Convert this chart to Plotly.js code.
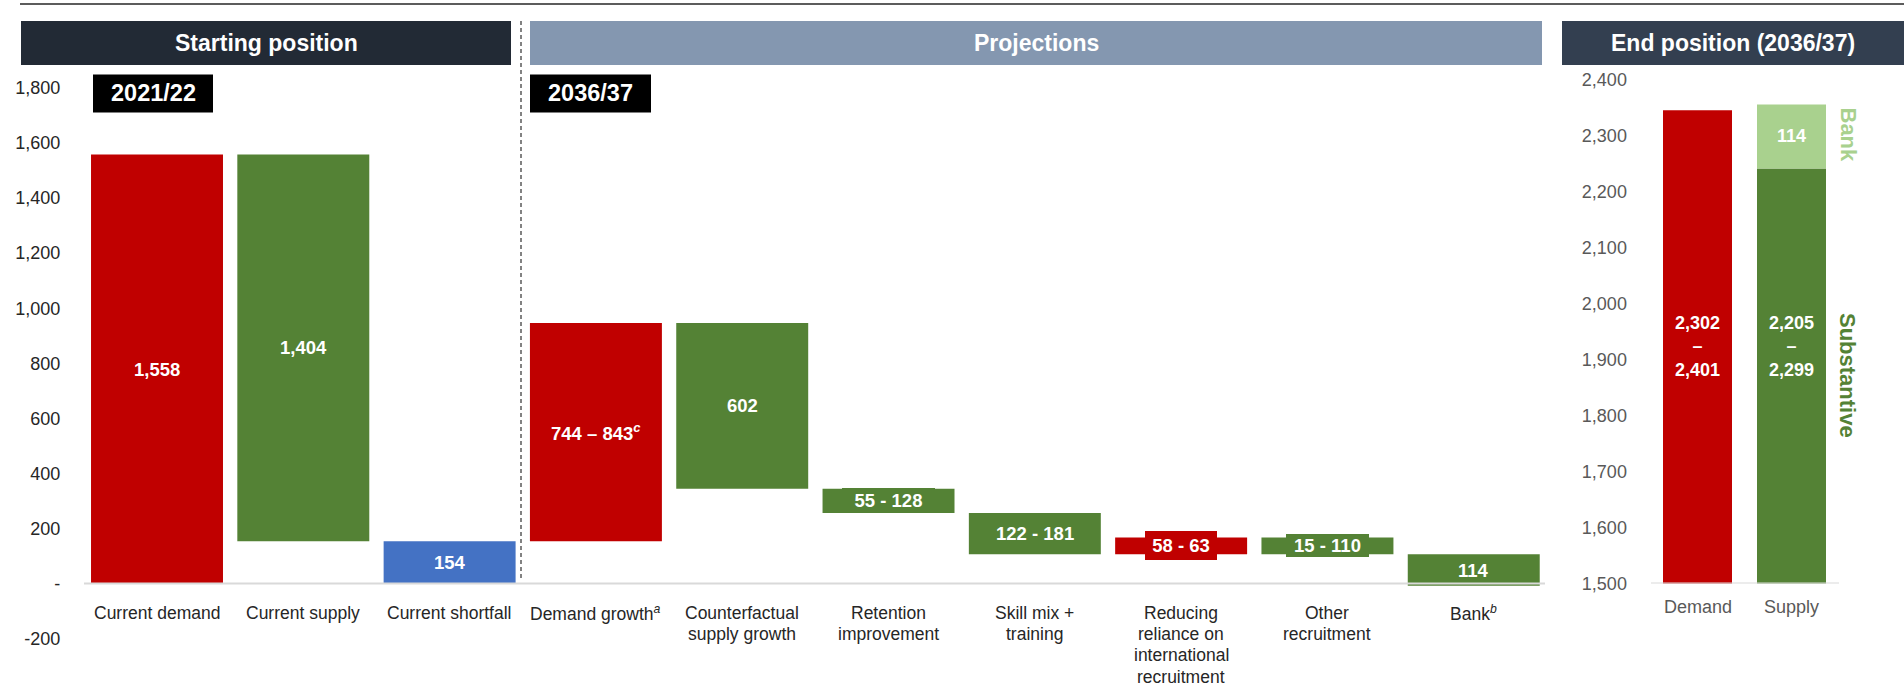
<!DOCTYPE html>
<html>
<head>
<meta charset="utf-8">
<script src="https://cdn.plot.ly/plotly-3.0.1.min.js"></script>
<style>
  html, body { margin: 0; padding: 0; background: #fff; }
  #chart { width: 1904px; height: 686px; }
</style>
</head>
<body>
<div id="chart"></div>
<script>
// ---------- DATA ----------
const categories = ['Current demand', 'Current supply', 'Current shortfall', 'Demand growth',
  'Counterfactual supply growth', 'Retention improvement', 'Skill mix + training',
  'Reducing reliance on international recruitment', 'Other recruitment', 'Bank'];
const categoryLabels = ['Current demand', 'Current supply', 'Current shortfall',
  'Demand growth<sup><i>a</i></sup>', 'Counterfactual<br>supply growth', 'Retention<br>improvement',
  'Skill mix +<br>training', 'Reducing<br>reliance on<br>international<br>recruitment',
  'Other<br>recruitment', 'Bank<sup><i>b</i></sup>'];
const barBottom = [0, 154, 0, 154, 344, 256, 106, 106, 106, -8];
const barTop = [1558, 1558, 154, 946, 946, 344, 256, 167, 167, 106];
const barKind = ['demand', 'supply', 'shortfall', 'demand', 'supply', 'supply', 'supply', 'demand', 'supply', 'supply'];
const valueLabels = ['1,558', '1,404', '154', '744 – 843<sup><i>c</i></sup>', '602', '55 - 128',
  '122 - 181', '58 - 63', '15 - 110', '114'];
const leftTickVals = [-200, 0, 200, 400, 600, 800, 1000, 1200, 1400, 1600, 1800];
const leftTickText = ['-200', '-', '200', '400', '600', '800', '1,000', '1,200', '1,400', '1,600', '1,800'];

const endCategories = ['Demand', 'Supply'];
const endDemand = 2346;
const endSubstantive = 2242;
const endBank = 114;
const endDemandLabel = '2,302<br>–<br>2,401';
const endSupplyLabel = '2,205<br>–<br>2,299';
const endBankLabel = '114';

// ---------- STYLE ----------
const W = 1904, H = 686;
const px = x => x / W;
const py = y => 1 - y / H;
const FONT = 'Liberation Sans, Arial, sans-serif';
const kindColor = { demand: '#c00000', supply: '#548235', shortfall: '#4472c4' };
const bankColor = '#a9d18e';
// label background boxes (pixel sizes) for the thin bars
const labelBoxStyle = [null, null, null, null, null, { w: 93, h: 25 }, null, { w: 72, h: 29 }, { w: 83, h: 23 }, null];

const heights = barTop.map((t, i) => t - barBottom[i]);
const colors = barKind.map(k => kindColor[k]);

const traces = [
  {
    type: 'bar', x: categories, y: heights, base: barBottom,
    marker: { color: colors, line: { width: 0 } },
    width: 0.902, xaxis: 'x', yaxis: 'y', hoverinfo: 'skip', showlegend: false
  },
  {
    type: 'bar', x: endCategories, y: [endDemand, endSubstantive],
    marker: { color: [kindColor.demand, kindColor.supply], line: { width: 0 } },
    width: 0.734, xaxis: 'x2', yaxis: 'y2', hoverinfo: 'skip', showlegend: false
  },
  {
    type: 'bar', x: ['Supply'], y: [endBank], base: [endSubstantive],
    marker: { color: bankColor, line: { width: 0 } },
    width: 0.734, xaxis: 'x2', yaxis: 'y2', hoverinfo: 'skip', showlegend: false
  }
];

const annotations = [];
const ann = o => annotations.push(Object.assign({ showarrow: false, xanchor: 'center', yanchor: 'middle' }, o));
// category labels, one annotation per line for tight line spacing
categories.forEach((c, i) => {
  categoryLabels[i].split('<br>').forEach((line, k) => {
    ann({
      xref: 'x', yref: 'y', x: c, y: 0, yshift: -(29 + 21.4 * k),
      text: line, font: { family: FONT, size: 17.5, color: '#262626' }
    });
  });
});
// bar value labels
categories.forEach((c, i) => {
  const box = labelBoxStyle[i];
  const o = {
    xref: 'x', yref: 'y', x: c, y: (barBottom[i] + barTop[i]) / 2,
    text: '<b>' + valueLabels[i] + '</b>',
    font: { family: FONT, size: 18.5, color: '#ffffff' }
  };
  if (box) Object.assign(o, { bgcolor: colors[i], borderpad: 0, borderwidth: 0, width: box.w, height: box.h });
  ann(o);
});
// end position labels
const endLabelY = (1500 + endDemand) / 2;
ann({ xref: 'x2', yref: 'y2', x: 'Demand', y: endLabelY, text: '<b>' + endDemandLabel + '</b>',
  font: { family: FONT, size: 18, color: '#ffffff' } });
ann({ xref: 'x2', yref: 'y2', x: 'Supply', y: endLabelY, text: '<b>' + endSupplyLabel + '</b>',
  font: { family: FONT, size: 18, color: '#ffffff' } });
ann({ xref: 'x2', yref: 'y2', x: 'Supply', y: endSubstantive + endBank / 2, text: '<b>' + endBankLabel + '</b>',
  font: { family: FONT, size: 18, color: '#ffffff' } });
endCategories.forEach(c => ann({
  xref: 'x2', yref: 'y2', x: c, y: 1500, yanchor: 'top', yshift: -11, text: c,
  font: { family: FONT, size: 18, color: '#595959' }
}));
// rotated labels
ann({ xref: 'paper', yref: 'paper', x: px(1848), y: py(134.5), text: '<b>Bank</b>', textangle: 90,
  font: { family: FONT, size: 22, color: bankColor } });
ann({ xref: 'paper', yref: 'paper', x: px(1848), y: py(375), text: '<b>Substantive</b>', textangle: 90,
  font: { family: FONT, size: 22, color: kindColor.supply } });
// headers
const headers = [
  { text: 'Starting position', x0: 21, x1: 511, color: '#222a35' },
  { text: 'Projections', x0: 530, x1: 1542, color: '#8497b0' },
  { text: 'End position (2036/37)', x0: 1562, x1: 1904, color: '#333f50' }
];
const shapes = [];
headers.forEach(h => {
  shapes.push({ type: 'rect', xref: 'paper', yref: 'paper', x0: px(h.x0), x1: px(h.x1), y0: py(65), y1: py(21),
    fillcolor: h.color, line: { width: 0 }, layer: 'below' });
  ann({ xref: 'paper', yref: 'paper', x: px((h.x0 + h.x1) / 2), y: py(43), text: '<b>' + h.text + '</b>',
    font: { family: FONT, size: 23, color: '#ffffff' } });
});
const yearBoxes = [
  { text: '2021/22', x0: 93, x1: 213 },
  { text: '2036/37', x0: 530, x1: 651 }
];
yearBoxes.forEach(b => {
  shapes.push({ type: 'rect', xref: 'paper', yref: 'paper', x0: px(b.x0), x1: px(b.x1), y0: py(112.5), y1: py(74.5),
    fillcolor: '#000000', line: { width: 0 }, layer: 'below' });
  ann({ xref: 'paper', yref: 'paper', x: px((b.x0 + b.x1) / 2), y: py(93.5), text: '<b>' + b.text + '</b>',
    font: { family: FONT, size: 23.5, color: '#ffffff' } });
});
// top rule, divider, axis lines
shapes.push(
  { type: 'line', xref: 'paper', yref: 'paper', x0: px(20), x1: 1, y0: py(4), y1: py(4),
    line: { color: '#262626', width: 1.5 } },
  { type: 'line', xref: 'paper', yref: 'paper', x0: px(521), x1: px(521), y0: py(21), y1: py(578),
    line: { color: '#595959', width: 1.5, dash: '4px,3px' } },
  { type: 'line', xref: 'paper', yref: 'y', x0: px(84), x1: px(1545), y0: 0, y1: 0,
    line: { color: '#d9d9d9', width: 2 }, layer: 'above' },
  { type: 'line', xref: 'paper', yref: 'y2', x0: px(1651), x1: px(1839), y0: 1500, y1: 1500,
    line: { color: '#d9d9d9', width: 2 }, layer: 'above' }
);

const layout = {
  width: W, height: H,
  margin: { l: 0, r: 0, t: 0, b: 0 },
  paper_bgcolor: '#ffffff', plot_bgcolor: 'rgba(0,0,0,0)',
  barmode: 'overlay',
  showlegend: false,
  font: { family: FONT },
  xaxis: {
    domain: [px(83.85), px(1546.9)], anchor: 'y', type: 'category', range: [-0.5, 9.5],
    showticklabels: false, ticks: '', showgrid: false, zeroline: false, showline: false, fixedrange: true
  },
  yaxis: {
    domain: [py(638.6), py(88)], anchor: 'x', range: [-200, 1800],
    tickvals: leftTickVals, ticktext: leftTickText,
    ticks: 'outside', ticklen: 19, tickcolor: 'rgba(0,0,0,0)',
    tickfont: { family: FONT, size: 18, color: '#262626' },
    showgrid: false, zeroline: false, showline: false, fixedrange: true
  },
  xaxis2: {
    domain: [px(1650.5), px(1838.5)], anchor: 'y2', type: 'category', range: [-0.5, 1.5],
    showticklabels: false, ticks: '', showgrid: false, zeroline: false, showline: false, fixedrange: true
  },
  yaxis2: {
    domain: [py(583.5), py(80)], anchor: 'x2', range: [1500, 2400], dtick: 100, tick0: 1500,
    tickformat: ',d',
    ticks: 'outside', ticklen: 19, tickcolor: 'rgba(0,0,0,0)',
    tickfont: { family: FONT, size: 18, color: '#595959' },
    showgrid: false, zeroline: false, showline: false, fixedrange: true
  },
  shapes: shapes,
  annotations: annotations
};

Plotly.newPlot('chart', traces, layout, { displayModeBar: false, staticPlot: true });
</script>
</body>
</html>
